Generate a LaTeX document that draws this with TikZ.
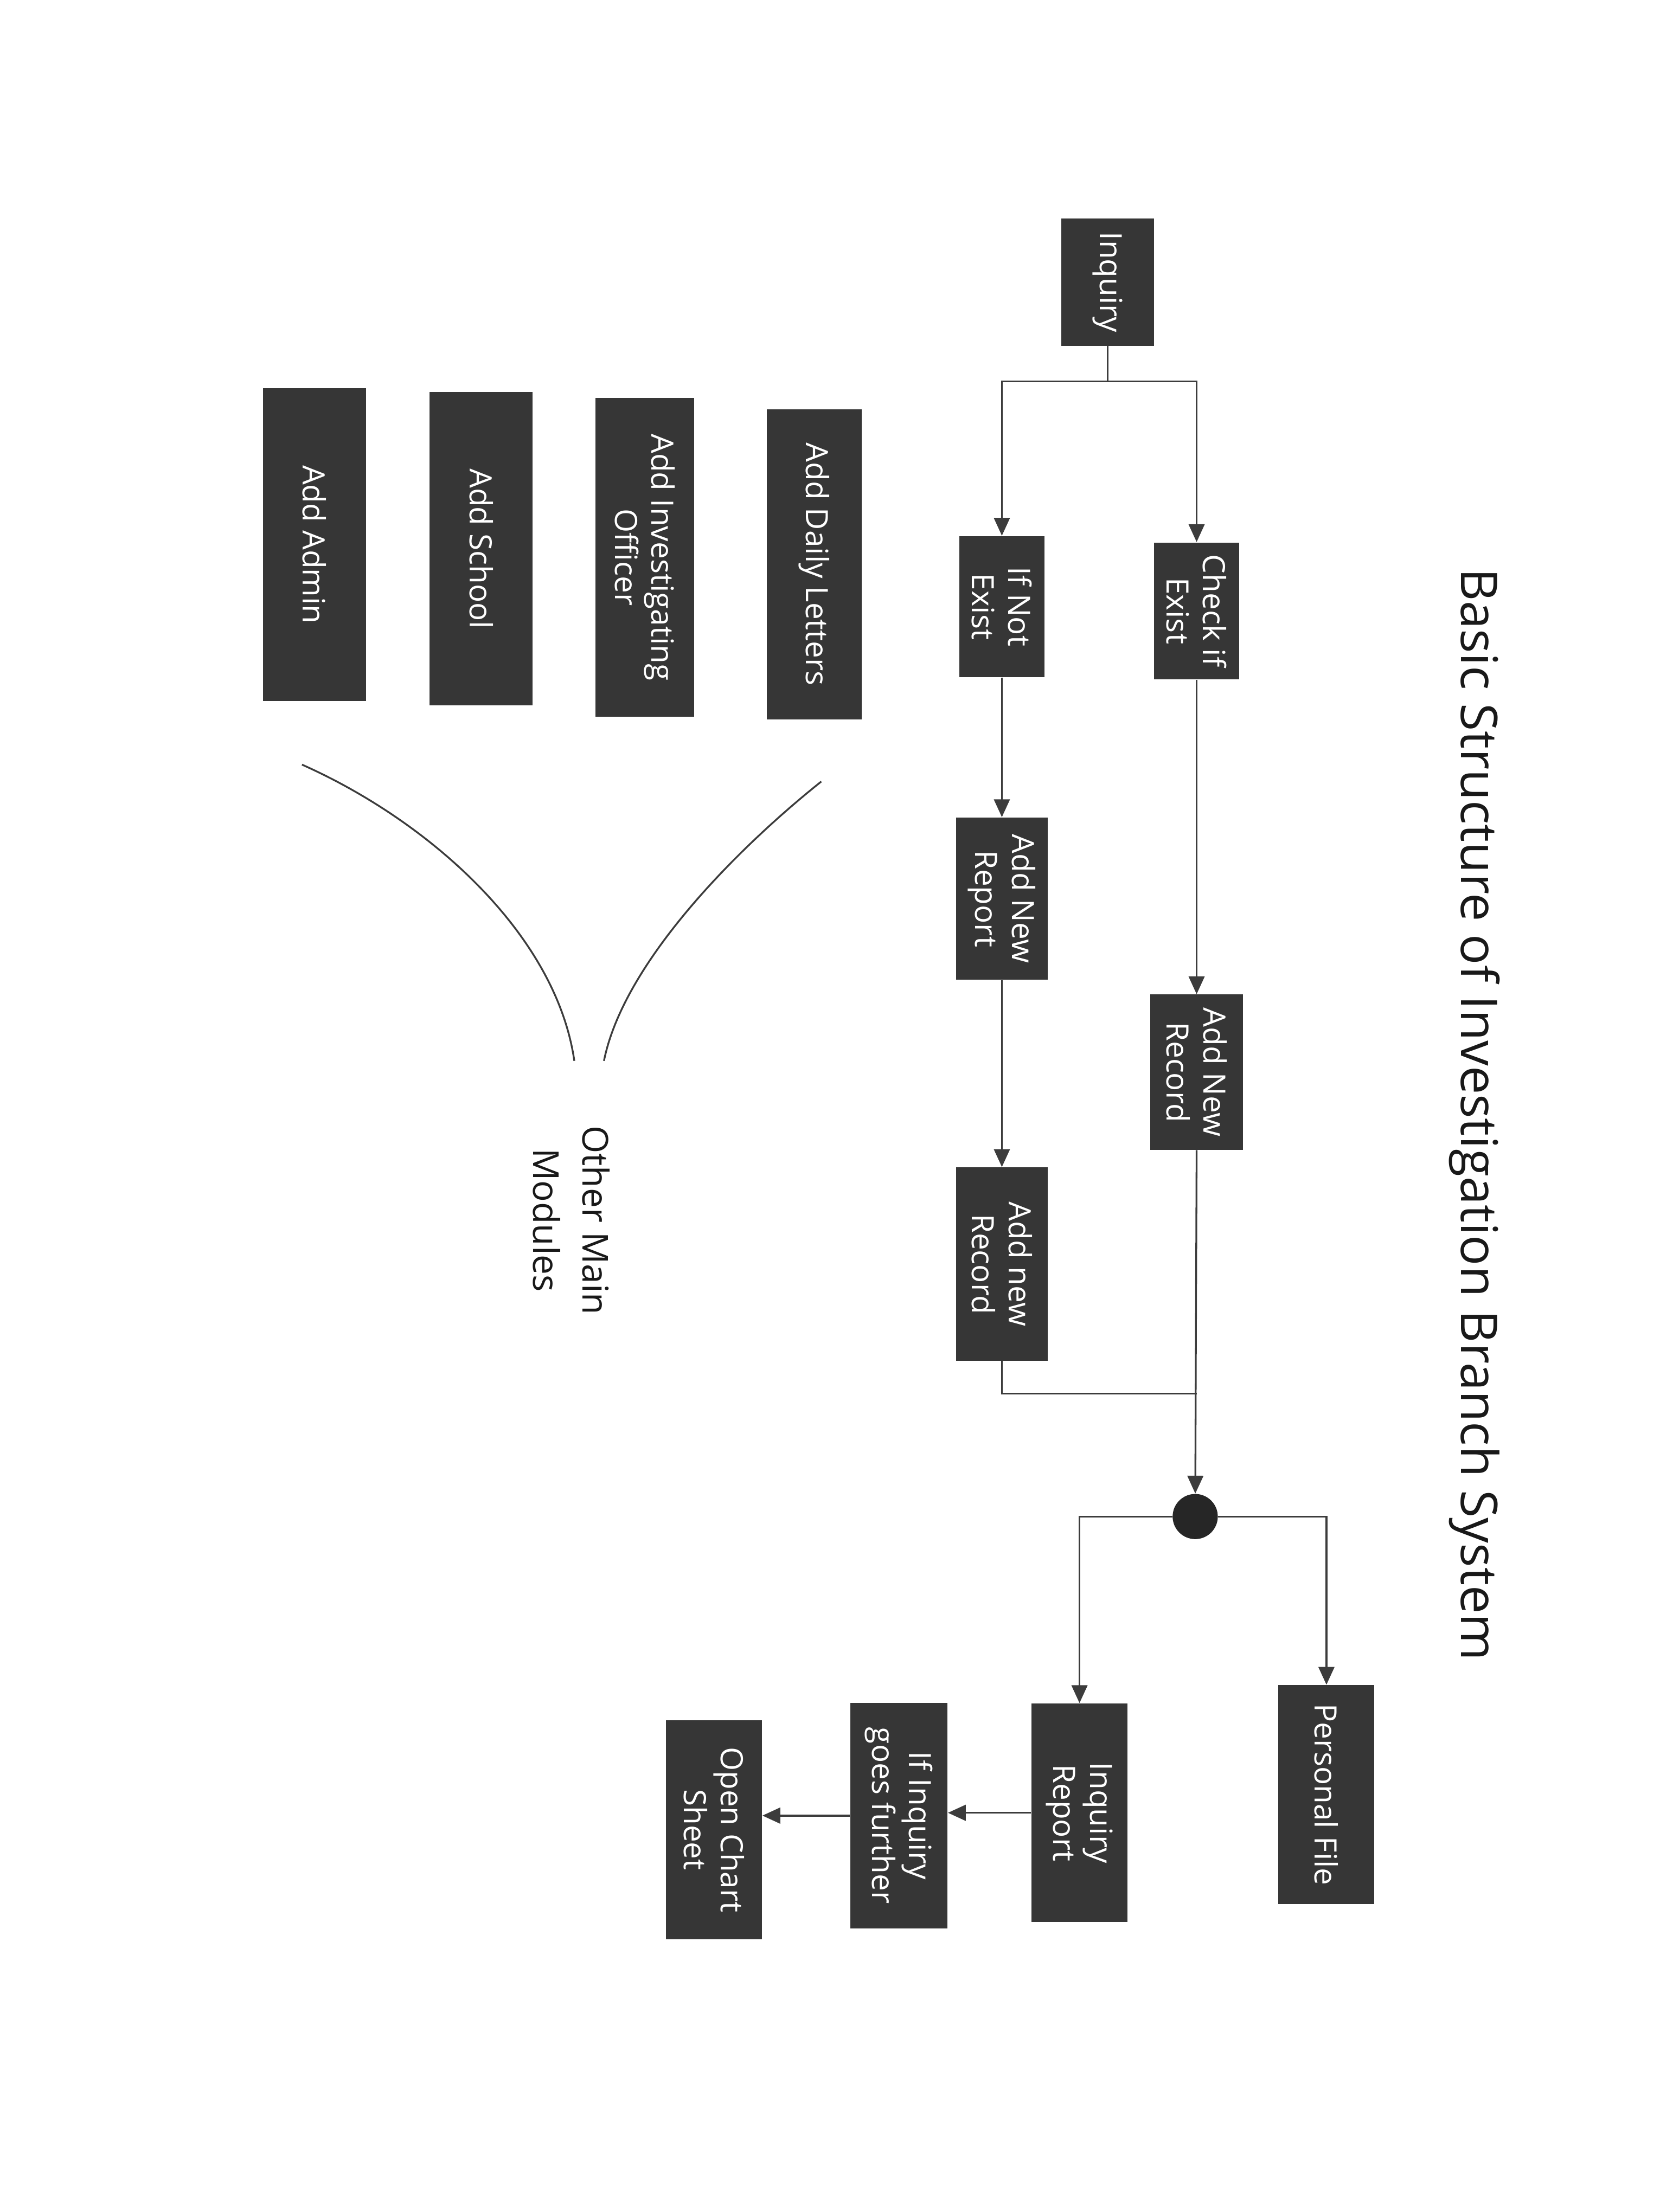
\documentclass[tikz,border=0pt]{standalone}
\usepackage{fontspec}
\setmainfont{Open Sans}
\usetikzlibrary{arrows.meta}
\definecolor{boxgray}{HTML}{363636}
\definecolor{linegray}{HTML}{3C3C3C}
\tikzset{
    box/.style={fill=boxgray,text=white,align=center,inner sep=0pt,font=\fontsize{15.5}{18.5}\selectfont},
    sz/.style 2 args={minimum width=#1*0.25mm,minimum height=#2*0.25mm},
    flow/.style={draw=linegray,line width=0.9pt,-{Triangle[length=9pt,width=8pt]}},
    link/.style={draw=linegray,line width=0.9pt},
    hubdot/.style={circle,fill=black!85,inner sep=0pt,minimum size=8mm}
}
\begin{document}
\begin{tikzpicture}[x=0.25mm,y=0.25mm]
    \useasboundingbox[fill=white] (0,0) rectangle (1176,-1568);
    \begin{scope}[rotate=-90,transform shape]
        \node[font=\fontsize{25.5}{30}\selectfont,text=black!90] (title) at (790,1045) {Basic Structure of Investigation Branch System};

        \node[box,sz={90}{66}] (inq) at (200,785) {Inquiry};
        \node[box,sz={97}{60}] (chk) at (433,848) {Check if\\Exist};
        \node[box,sz={100}{60}] (notex) at (430,710) {If Not\\Exist};
        \node[box,sz={110}{66}] (newrec) at (760,848) {Add New\\Record};
        \node[box,sz={115}{65}] (newrep) at (637,710) {Add New\\Report};
        \node[box,sz={137}{65}] (newrec2) at (896,710) {Add new\\Record};
        \node[hubdot] (hub) at (1075,847) {};
        \node[box,sz={155}{68}] (pfile) at (1272,940) {Personal File};
        \node[box,sz={155}{68}] (inqrep) at (1285,765) {Inquiry\\Report};
        \node[box,sz={160}{69}] (further) at (1287,637) {If Inquiry\\goes further};
        \node[box,sz={155}{68}] (chart) at (1297,506) {Open Chart\\Sheet};

        \node[box,sz={220}{67}] (letters) at (400,577) {Add Daily Letters};
        \node[box,sz={226}{70}] (officer) at (395,457) {Add Investigating\\Officer};
        \node[box,sz={222}{73}] (school) at (389,341) {Add School};
        \node[box,sz={222}{73}] (admin) at (386,223) {Add Admin};
        \node[align=center,font=\fontsize{18}{25}\selectfont,text=black!90] (other) at (865,405) {Other Main\\Modules};

        \draw[link] (inq.east) -- ++(25,0) coordinate (split);
        \draw[flow] (split) |- (chk.west);
        \draw[flow] (split) |- (notex.west);
        \draw[flow] (chk.east) -- (newrec.west);
        \draw[flow] (notex.east) -- (newrep.west);
        \draw[flow] (newrep.east) -- (newrec2.west);
        \draw[flow] (newrec.east) -- (hub);
        \draw[link] (newrec2.east) -- ++(23,0) coordinate (bend) -- (bend |- newrec.east);
        \draw[flow] (hub) |- (pfile.west);
        \draw[flow] (hub) |- (inqrep.west);
        \draw[flow] (inqrep.south) -- (inqrep.south |- further.north);
        \draw[flow] (further.south) -- (further.south |- chart.north);

        \coordinate (rtop) at (554,582);
        \coordinate (rbot) at (752,428);
        \coordinate (ltop) at (542,214);
        \coordinate (lbot) at (752,407);
        \draw[link] (rtop) .. controls (601,523) and (682,442) .. (rbot);
        \draw[link] (ltop) .. controls (582,304) and (662,394) .. (lbot);
    \end{scope}
\end{tikzpicture}
\end{document}
